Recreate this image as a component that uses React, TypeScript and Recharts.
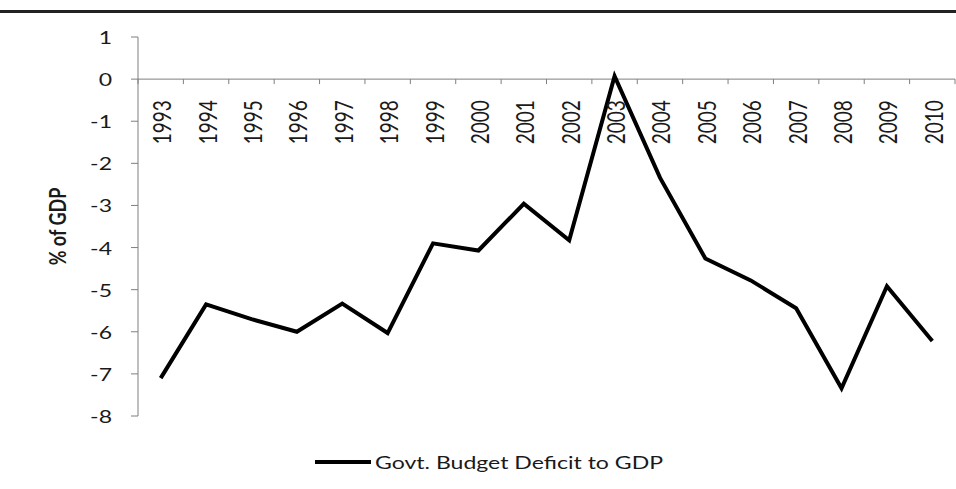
import { LineChart, Line, XAxis, YAxis, ReferenceLine, Legend } from "recharts";

const years = [
  "1993", "1994", "1995", "1996", "1997", "1998", "1999", "2000", "2001",
  "2002", "2003", "2004", "2005", "2006", "2007", "2008", "2009", "2010",
];

// Govt. budget deficit, % of GDP
const deficit = [
  -7.1, -5.35, -5.7, -6.0, -5.33, -6.03, -3.9, -4.07, -2.96,
  -3.83, 0.07, -2.34, -4.26, -4.78, -5.44, -7.34, -4.92, -6.22,
];

const yTicks = [1, 0, -1, -2, -3, -4, -5, -6, -7, -8];

const data = years.map((year, i) => ({ year, deficit: deficit[i] }));

const W = 956;
const H = 489;
const TOP = 37;
const BOTTOM = 73;
const X_AXIS_H = 20;
const LEFT = 138;
const RIGHT = 1;
const Y_MAX = 1;
const Y_MIN = -8;
const PLOT_W = W - LEFT - RIGHT;
const PLOT_H = H - TOP - BOTTOM;
const STEP = PLOT_W / years.length;
const ZERO_Y = TOP + (PLOT_H * (Y_MAX - 0)) / (Y_MAX - Y_MIN);

const FONT = "Lato, 'Liberation Sans', sans-serif";
const AXIS = "#7f7f7f";
const STRETCH = 1.28;

// the category axis sits on the zero line, so labels are placed from ZERO_Y
const YearTick = (props: any) => {
  const { x, index, payload } = props;
  const y = ZERO_Y + 21;
  return (
    <g>
      <line x1={x - STEP / 2} x2={x - STEP / 2} y1={ZERO_Y} y2={ZERO_Y + 5} stroke={AXIS} />
      {index === years.length - 1 && (
        <line x1={x + STEP / 2} x2={x + STEP / 2} y1={ZERO_Y} y2={ZERO_Y + 5} stroke={AXIS} />
      )}
      <text
        transform={`translate(${x + 1},${y}) scale(${STRETCH},1) rotate(-90)`}
        textAnchor="end"
        dominantBaseline="central"
        fontSize={19}
        fontFamily={FONT}
        fill="#1a1a1a"
      >
        {payload.value}
      </text>
    </g>
  );
};

const ValueTick = (props: any) => {
  const { x, y, payload } = props;
  return (
    <text
      transform={`translate(${x},${y}) scale(${STRETCH},1)`}
      textAnchor="end"
      dominantBaseline="central"
      fontSize={18}
      fontFamily={FONT}
      fill="#1a1a1a"
    >
      {payload.value}
    </text>
  );
};

const YTitle = (props: any) => {
  const vb = props.viewBox || { x: 0, y: TOP, height: PLOT_H };
  const cy = vb.y + vb.height / 2;
  return (
    <text
      transform={`translate(57,${cy}) scale(${STRETCH},1) rotate(-90)`}
      textAnchor="middle"
      dominantBaseline="central"
      fontSize={18}
      fontWeight="bold"
      fontFamily={FONT}
      fill="#1a1a1a"
    >
      % of GDP
    </text>
  );
};

const renderLegend = (props: any) => {
  const { payload } = props;
  return (
    <div style={{ display: "flex", alignItems: "center" }}>
      {(payload || []).map((entry: any) => (
        <div key={entry.value} style={{ display: "flex", alignItems: "center" }}>
          <svg width={56} height={8}>
            <line x1={0} y1={4} x2={56} y2={4} stroke={entry.color} strokeWidth={4} strokeLinecap="round" />
          </svg>
          <span
            style={{
              display: "inline-block",
              marginLeft: 4,
              fontSize: 18,
              fontFamily: FONT,
              color: "#1a1a1a",
              whiteSpace: "nowrap",
              transform: `scaleX(${STRETCH})`,
              transformOrigin: "left center",
            }}
          >
            {entry.value}
          </span>
        </div>
      ))}
    </div>
  );
};

export default function App() {
  return (
    <div
      style={{
        position: "absolute",
        left: 0,
        top: 0,
        width: W,
        height: H,
        background: "#fff",
        overflow: "hidden",
      }}
    >
      <div
        style={{
          position: "absolute",
          left: 0,
          top: 10,
          width: W,
          height: 3,
          background: "#222",
        }}
      />
      <LineChart
        width={W}
        height={H}
        data={data}
        margin={{ top: TOP, right: RIGHT, bottom: BOTTOM - X_AXIS_H, left: 0 }}
      >
        <XAxis
          dataKey="year"
          height={X_AXIS_H}
          axisLine={false}
          tickLine={false}
          interval={0}
          padding={{ left: STEP / 2, right: STEP / 2 }}
          tick={<YearTick />}
        />
        <YAxis
          width={LEFT}
          domain={[Y_MIN, Y_MAX]}
          ticks={yTicks}
          interval={0}
          allowDataOverflow
          axisLine={{ stroke: AXIS }}
          tickLine={{ stroke: AXIS }}
          tickSize={7}
          tickMargin={19}
          tick={<ValueTick />}
          label={{ value: "% of GDP", content: <YTitle /> }}
        />
        <ReferenceLine y={0} stroke={AXIS} strokeWidth={1} />
        <Line
          type="linear"
          dataKey="deficit"
          name="Govt. Budget Deficit to GDP"
          stroke="#000"
          strokeWidth={4}
          dot={false}
          isAnimationActive={false}
        />
        <Legend
          verticalAlign="middle"
          align="center"
          layout="horizontal"
          content={renderLegend}
          wrapperStyle={{ left: 315, top: 451, width: 420, height: 20 }}
        />
      </LineChart>
    </div>
  );
}
